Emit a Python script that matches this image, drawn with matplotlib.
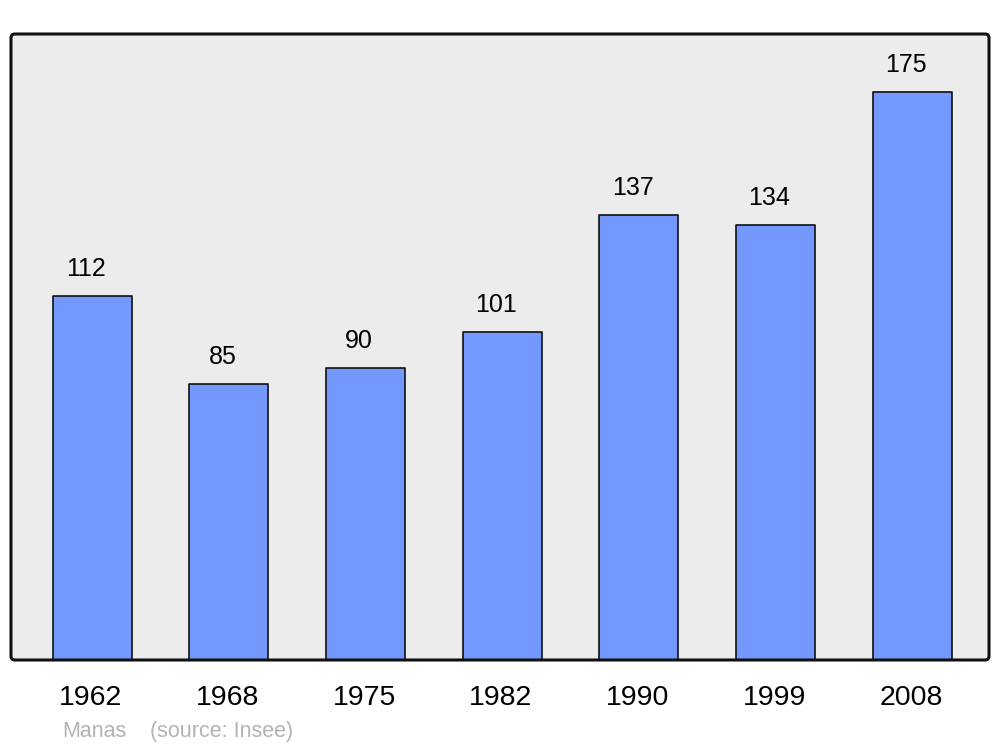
"""
    Population chart - Manas (source: Insee)
"""

import matplotlib
matplotlib.use("Agg")
import matplotlib.pyplot as plt
from matplotlib.patches import FancyBboxPatch
from matplotlib.transforms import blended_transform_factory

""" dados """
anos = ["1962", "1968", "1975", "1982", "1990", "1999", "2008"]
populacao = [112, 85, 90, 101, 137, 134, 175]

plt.rcParams["font.family"] = ["Liberation Sans", "DejaVu Sans"]

fig = plt.figure(figsize=(10, 7.47), dpi=100)
ax = fig.add_axes([0.011, 1 - 660 / 747, 0.978, 626 / 747])
ax.set_facecolor("none")
for s in ax.spines.values():
    s.set_visible(False)

# fundo com cantos arredondados
fundo = FancyBboxPatch((0.011, 1 - 660 / 747), 0.978, 626 / 747,
                       boxstyle="round,pad=0,rounding_size=0.004",
                       mutation_aspect=1000 / 747,
                       transform=fig.transFigure, facecolor="#ececec",
                       edgecolor="none", zorder=-1)
fig.patches.append(fundo)

x = list(range(len(anos)))
ax.bar(x, populacao, width=0.578, color="#7399ff", edgecolor="#111111",
       linewidth=1.2, joinstyle="round", zorder=2)

for xi, v in zip(x, populacao):
    ax.annotate(str(v), (xi - 0.045, v), xytext=(0, 19.5), textcoords="offset points",
                ha="center", va="center", fontsize=18, color="black")

ax.set_xlim(-0.593, 6.562)
ax.set_ylim(0, 192.8)
ax.set_xticks([])
ax.set_yticks([])

trans = blended_transform_factory(ax.transData, ax.transAxes)
for xi, a in zip(x, anos):
    ax.text(xi - 0.01, -38 / 626, a, transform=trans, ha="center", va="center",
            fontsize=20.5, color="black")

# moldura
moldura = FancyBboxPatch((0.011, 1 - 660 / 747), 0.978, 626 / 747,
                         boxstyle="round,pad=0,rounding_size=0.004",
                         mutation_aspect=1000 / 747,
                         transform=fig.transFigure, facecolor="none",
                         edgecolor="#111111", linewidth=2.2, zorder=5)
fig.patches.append(moldura)

fig.text(0.062, 1 - 737 / 747, "Manas", ha="left", va="baseline",
         fontsize=15.5, color="#b3b3b3")
fig.text(0.150, 1 - 737 / 747, "(source: Insee)", ha="left", va="baseline",
         fontsize=15.5, color="#b3b3b3")

fig.savefig("out.png", dpi=100, facecolor="white")
